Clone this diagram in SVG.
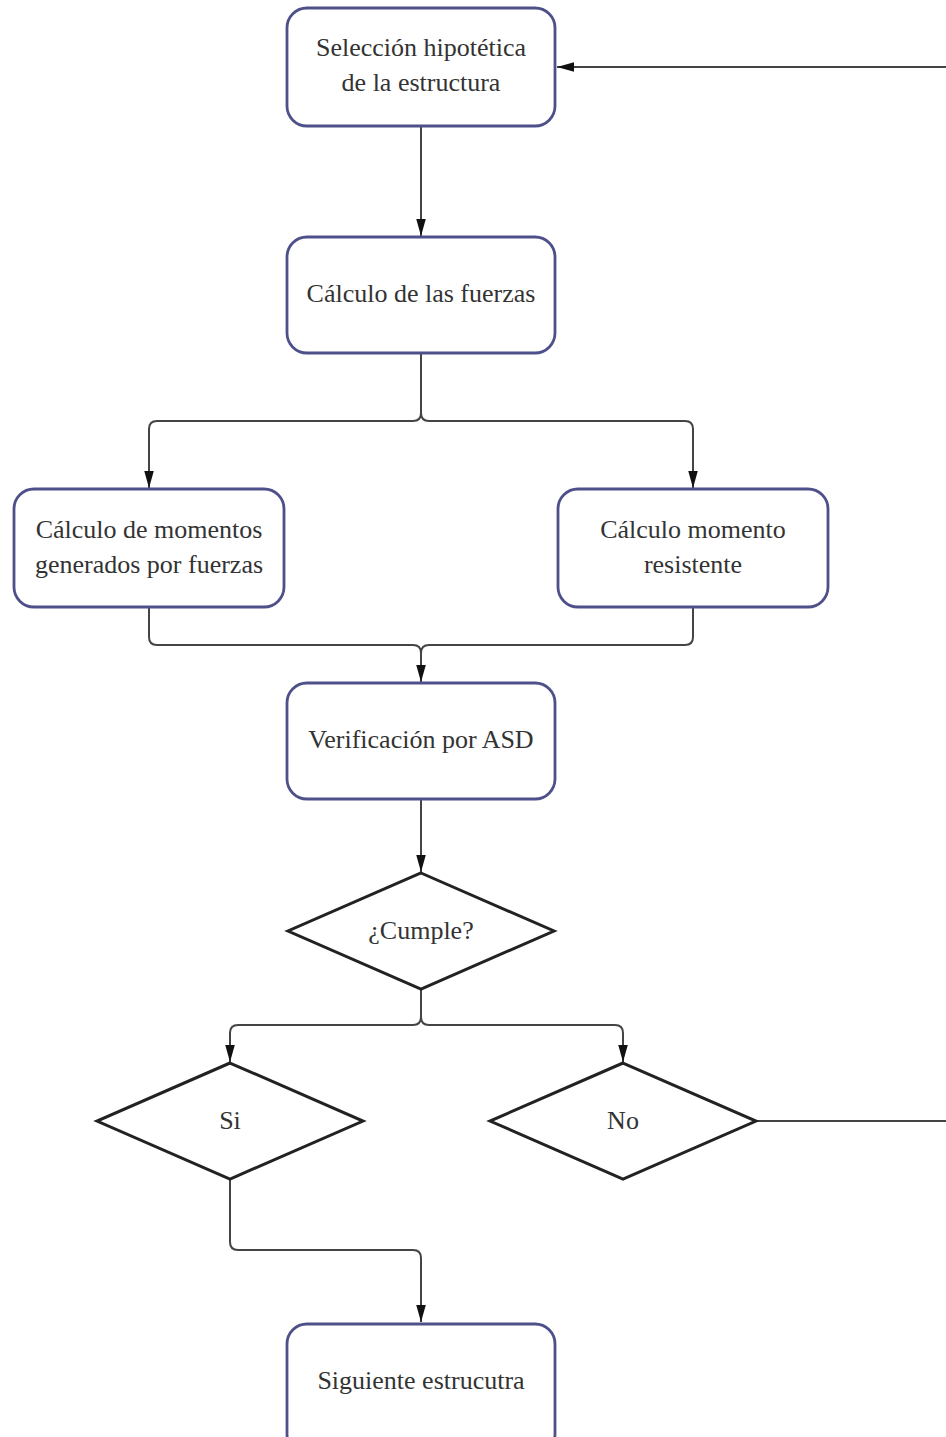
<svg xmlns="http://www.w3.org/2000/svg" width="946" height="1437" viewBox="0 0 946 1437">
<style>
.box{fill:#fff;stroke:#4d5089;stroke-width:2.8}
.dia{fill:#fff;stroke:#222;stroke-width:3}
.t{font-family:"Liberation Serif","DejaVu Serif",serif;font-size:26px;fill:#333;text-anchor:middle}
.c{fill:none;stroke:#444;stroke-width:2}
</style>
<defs>
<marker id="ah" viewBox="0 0 16 10" refX="16" refY="5" markerWidth="17" markerHeight="11" markerUnits="userSpaceOnUse" orient="auto">
<path d="M0,0.5 L16,5 L0,9.5 Z" fill="#111"/>
</marker>
</defs>
<rect width="946" height="1437" fill="#fff"/>
<g id="connectors">
<path class="c" d="M421,126 V236" marker-end="url(#ah)"/>
<path class="c" d="M421,353 V413 Q421,421 413,421 H157 Q149,421 149,429 V488" marker-end="url(#ah)"/>
<path class="c" d="M421,413 Q421,421 429,421 H685 Q693,421 693,429 V488" marker-end="url(#ah)"/>
<path class="c" d="M149,607 V637 Q149,645 157,645 H413 Q421,645 421,653 V682" marker-end="url(#ah)"/>
<path class="c" d="M693,607 V637 Q693,645 685,645 H429 Q421,645 421,653" />
<path class="c" d="M421,799 V872" marker-end="url(#ah)"/>
<path class="c" d="M421,989 V1017 Q421,1025 413,1025 H238 Q230,1025 230,1033 V1062" marker-end="url(#ah)"/>
<path class="c" d="M421,1017 Q421,1025 429,1025 H615 Q623,1025 623,1033 V1062" marker-end="url(#ah)"/>
<path class="c" d="M230,1179 V1242 Q230,1250 238,1250 H413 Q421,1250 421,1258 V1322" marker-end="url(#ah)"/>
<path class="c" d="M756,1121 H946"/>
<path class="c" d="M946,67 H557" marker-end="url(#ah)"/>
</g>
<g id="n1"><rect class="box" x="287" y="8" width="268" height="118" rx="20"/>
<text class="t" x="421" y="56">Selección hipotética</text><text class="t" x="421" y="91">de la estructura</text></g>
<g id="n2"><rect class="box" x="287" y="237" width="268" height="116" rx="20"/>
<text class="t" x="421" y="302">Cálculo de las fuerzas</text></g>
<g id="n3"><rect class="box" x="14" y="489" width="270" height="118" rx="20"/>
<text class="t" x="149" y="538">Cálculo de momentos</text><text class="t" x="149" y="573">generados por fuerzas</text></g>
<g id="n4"><rect class="box" x="558" y="489" width="270" height="118" rx="20"/>
<text class="t" x="693" y="538">Cálculo momento</text><text class="t" x="693" y="573">resistente</text></g>
<g id="n5"><rect class="box" x="287" y="683" width="268" height="116" rx="20"/>
<text class="t" x="421" y="748">Verificación por ASD</text></g>
<g id="n6"><polygon class="dia" points="421,873 554,931 421,989 288,931"/>
<text class="t" x="421" y="939">¿Cumple?</text></g>
<g id="n7"><polygon class="dia" points="230,1063 363,1121 230,1179 97,1121"/>
<text class="t" x="230" y="1129">Si</text></g>
<g id="n8"><polygon class="dia" points="623,1063 756,1121 623,1179 490,1121"/>
<text class="t" x="623" y="1129">No</text></g>
<g id="n9"><rect class="box" x="287" y="1324" width="268" height="130" rx="20"/>
<text class="t" x="421" y="1389">Siguiente estrucutra</text></g>
</svg>
